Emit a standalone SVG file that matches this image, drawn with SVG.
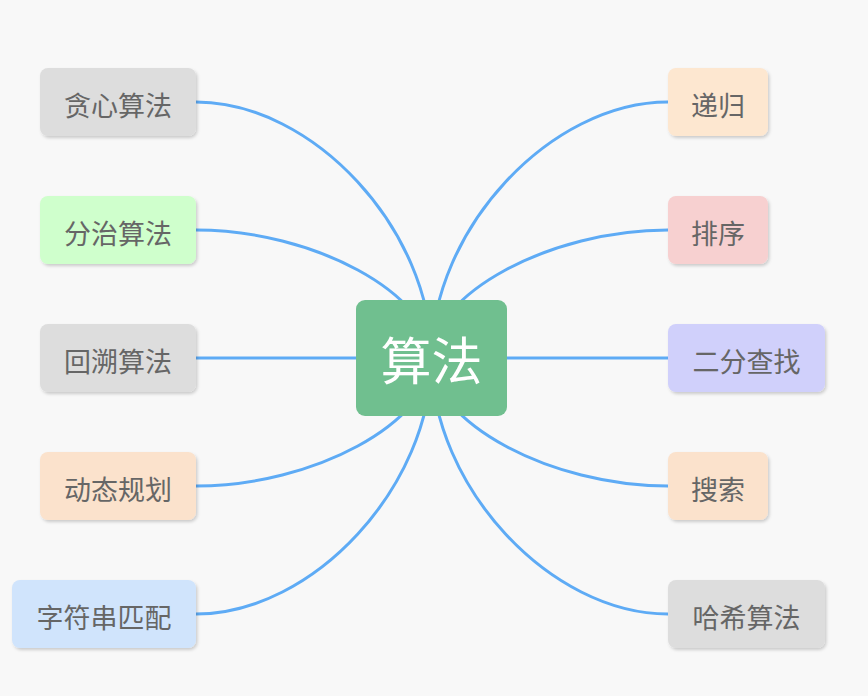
<svg xmlns="http://www.w3.org/2000/svg" width="868" height="696" viewBox="0 0 868 696">
  <defs>
    <filter id="sh" x="-10%" y="-10%" width="125%" height="130%">
      <feDropShadow dx="1.5" dy="2" stdDeviation="1.5" flood-color="#000" flood-opacity="0.18"/>
    </filter>
    <style>
      .bg { fill: #f8f8f8; }
      .conn path { fill: none; stroke: #5eabf5; stroke-width: 3; stroke-linecap: round; }
      .node rect { filter: url(#sh); }
      .node text { font-family: "Noto Sans CJK SC", "Noto Sans", sans-serif; font-size: 27px; fill: #666666; text-anchor: middle; dominant-baseline: central; }
      .root text { font-family: "Noto Sans CJK SC", "Noto Sans", sans-serif; font-size: 51px; fill: #ffffff; text-anchor: middle; dominant-baseline: central; }
      .gray { fill: #dddddd; }
    </style>
  </defs>
  <rect class="bg" x="0" y="0" width="868" height="696"/>

  <g id="connectors" class="conn">
    <path d="M196,102 C313.5,102 431.5,230 431.5,358"/>
    <path d="M196,230 C313.5,230 431.5,294 431.5,358"/>
    <path d="M196,358 L431.5,358"/>
    <path d="M196,486 C313.5,486 431.5,422 431.5,358"/>
    <path d="M196,614 C313.5,614 431.5,486 431.5,358"/>
    <path d="M668,102 C550,102 431.5,230 431.5,358"/>
    <path d="M668,230 C550,230 431.5,294 431.5,358"/>
    <path d="M668,358 L431.5,358"/>
    <path d="M668,486 C550,486 431.5,422 431.5,358"/>
    <path d="M668,614 C550,614 431.5,486 431.5,358"/>
  </g>

  <g id="root" class="root">
    <rect x="356" y="300" width="151" height="116" rx="9" fill="#70bf8f"/>
    <text x="431.5" y="358">算法</text>
  </g>

  <g id="n-greedy" class="node">
    <rect x="40" y="68" width="156" height="68" rx="8" class="gray"/>
    <text x="118" y="104">贪心算法</text>
  </g>
  <g id="n-divide" class="node">
    <rect x="40" y="196" width="156" height="68" rx="8" fill="#cfffcc"/>
    <text x="118" y="232">分治算法</text>
  </g>
  <g id="n-backtrack" class="node">
    <rect x="40" y="324" width="156" height="68" rx="8" class="gray"/>
    <text x="118" y="360">回溯算法</text>
  </g>
  <g id="n-dp" class="node">
    <rect x="40" y="452" width="156" height="68" rx="8" fill="#fbe2cc"/>
    <text x="118" y="488">动态规划</text>
  </g>
  <g id="n-string" class="node">
    <rect x="12" y="580" width="184" height="68" rx="8" fill="#d0e4fc"/>
    <text x="104" y="616">字符串匹配</text>
  </g>

  <g id="n-recursion" class="node">
    <rect x="668" y="68" width="100" height="68" rx="8" fill="#fde7d0"/>
    <text x="718" y="104">递归</text>
  </g>
  <g id="n-sort" class="node">
    <rect x="668" y="196" width="100" height="68" rx="8" fill="#f7d0d0"/>
    <text x="718" y="232">排序</text>
  </g>
  <g id="n-binary" class="node">
    <rect x="668" y="324" width="157" height="68" rx="8" fill="#d0d0fb"/>
    <text x="746.5" y="360">二分查找</text>
  </g>
  <g id="n-search" class="node">
    <rect x="668" y="452" width="100" height="68" rx="8" fill="#fbe2cc"/>
    <text x="718" y="488">搜索</text>
  </g>
  <g id="n-hash" class="node">
    <rect x="668" y="580" width="157" height="68" rx="8" class="gray"/>
    <text x="746.5" y="616">哈希算法</text>
  </g>
</svg>
